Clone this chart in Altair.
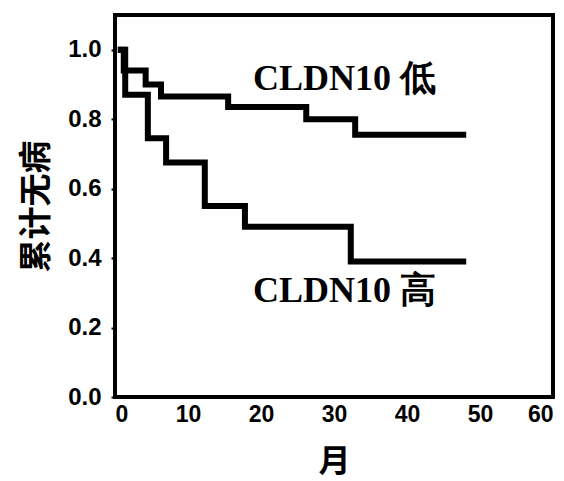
import altair as alt
import pandas as pd

# Kaplan-Meier style step curves (month, survival)
low_months = [0.8, 1.2, 4.2, 6.3, 15.5, 26.2, 32.9, 47.7]
low_values = [1.0, 0.94, 0.90, 0.865, 0.835, 0.80, 0.755, 0.755]
high_months = [0.8, 1.4, 4.5, 7.0, 12.3, 17.8, 32.3, 47.7]
high_values = [1.0, 0.87, 0.745, 0.675, 0.55, 0.49, 0.39, 0.39]

labels = ["CLDN10 低", "CLDN10 高"]
label_x = [18.9, 18.9]
label_y = [0.915, 0.305]

df = pd.concat([
    pd.DataFrame({"month": low_months, "surv": low_values, "group": "low"}),
    pd.DataFrame({"month": high_months, "surv": high_values, "group": "high"}),
])
lab = pd.DataFrame({"text": labels, "x": label_x, "y": label_y})

x_scale = alt.Scale(domain=[0, 60], nice=False)
y_scale = alt.Scale(domain=[0, 1.1], nice=False)

lines = alt.Chart(df).mark_line(
    interpolate="step-after", color="black", strokeWidth=6, strokeJoin="miter", strokeCap="square"
).encode(
    x=alt.X("month:Q", scale=x_scale,
            axis=alt.Axis(title="月", values=[0, 10, 20, 30, 40, 50, 60], grid=False, domain=False,
                          tickSize=0, labelPadding=6, labelFontSize=23, labelFont="Liberation Sans",
                          labelFontWeight="bold", titleFontSize=32, titleFont="Noto Sans CJK SC",
                          titleFontWeight="bold", titlePadding=20, labelColor="black", titleColor="black")),
    y=alt.Y("surv:Q", scale=y_scale,
            axis=alt.Axis(title="累计无病", values=[0, 0.1, 0.2, 0.3, 0.4, 0.5, 0.6, 0.7, 0.8, 0.9, 1.0],
                          labelExpr="(round(datum.value*10) % 2 == 0) ? format(datum.value, '.1f') : ''",
                          grid=False, domain=False, tickSize=4, tickWidth=2, tickColor="black",
                          labelPadding=10, labelFontSize=24, labelFont="Liberation Sans",
                          labelFontWeight="bold", titleFontSize=33, titleFont="Noto Sans CJK SC",
                          titleFontWeight="bold", titlePadding=14, labelColor="black", titleColor="black")),
    detail="group:N",
)

texts = alt.Chart(lab).mark_text(
    align="left", baseline="middle", font="Liberation Serif", fontSize=36, fontWeight="bold", color="black"
).encode(x=alt.X("x:Q", scale=x_scale), y=alt.Y("y:Q", scale=y_scale), text="text:N")

chart = (lines + texts).properties(
    width=438, height=382,
    autosize=alt.AutoSizeParams(type="none"),
    padding={"left": 115, "top": 15, "right": 11, "bottom": 84},
    background="white",
).configure_view(stroke="black", strokeWidth=4)

chart.save("out.html", embed_options={"renderer": "svg", "actions": False})
